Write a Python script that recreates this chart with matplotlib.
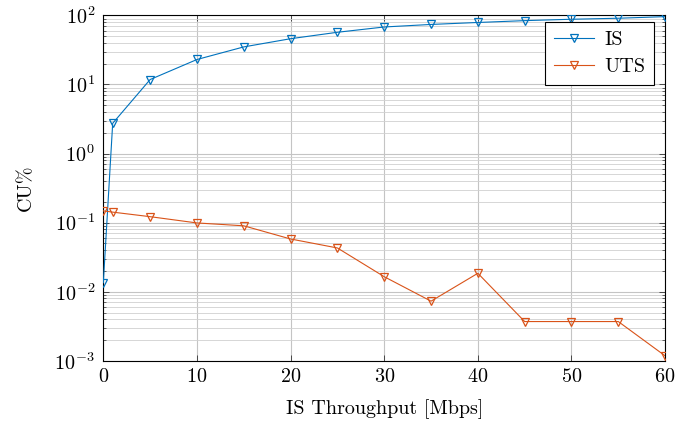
import matplotlib
matplotlib.use("Agg")
import matplotlib.pyplot as plt
from matplotlib.ticker import LogLocator, NullFormatter, MultipleLocator

plt.rcParams['font.family'] = ['cmr10', 'DejaVu Serif']
plt.rcParams['mathtext.fontset'] = 'cm'
plt.rcParams['axes.formatter.use_mathtext'] = True

throughput = [0, 1, 5, 10, 15, 20, 25, 30, 35, 40, 45, 50, 55, 60]
cu_is = [0.0135, 2.74, 11.8, 23.0, 35.0, 46.0, 57.0, 68.0, 74.0, 79.0, 84.0, 88.0, 91.0, 96.0]
cu_uts = [0.148, 0.142, 0.122, 0.099, 0.090, 0.058, 0.043, 0.0165, 0.0073, 0.0185,
          0.0037, 0.0037, 0.0037, 0.00118]

blue = '#0072BD'
orange = '#D95319'

fig = plt.figure(figsize=(6.78, 4.28), dpi=100)
ax = fig.add_axes([0.1524, 0.157, 0.8286, 0.807])

ax.plot(throughput, cu_is, color=blue, lw=0.8, marker='v', ms=6,
        mfc='none', mec=blue, mew=0.9, label='IS', zorder=3)
ax.plot(throughput, cu_uts, color=orange, lw=0.8, marker='v', ms=6,
        mfc='none', mec=orange, mew=0.9, label='UTS', zorder=3)

ax.set_yscale('log')
ax.set_xlim(0, 60)
ax.set_ylim(1e-3, 1e2)
ax.xaxis.set_major_locator(MultipleLocator(10))
ax.yaxis.set_major_locator(LogLocator(base=10, numticks=10))
ax.yaxis.set_minor_locator(LogLocator(base=10, subs=range(2, 10), numticks=20))
ax.yaxis.set_minor_formatter(NullFormatter())

ax.grid(True, which='major', color='#c4c4c4', lw=0.8, zorder=0)
ax.grid(True, which='minor', axis='y', color='#d0d0d0', lw=0.6, zorder=0)
ax.set_axisbelow(True)

ax.tick_params(which='both', direction='in', top=True, right=True, labelsize=14.5,
               colors='#333333', labelcolor='black')
ax.tick_params(which='major', length=4, width=0.6)
ax.tick_params(which='minor', length=2.5, width=0.5)
ax.tick_params(axis='x', pad=5)
ax.tick_params(axis='y', pad=6)
for s in ax.spines.values():
    s.set_linewidth(0.8)
    s.set_color('black')

ax.set_xlabel('IS Throughput [Mbps]', fontsize=14.5, labelpad=10)
ax.set_ylabel('CU%', fontsize=14.5, labelpad=14)

leg = ax.legend(loc='upper right', bbox_to_anchor=(0.981, 0.981), borderaxespad=0,
                fontsize=14.5, frameon=True, fancybox=False, edgecolor='black',
                framealpha=1, handlelength=2.0, borderpad=0.45, labelspacing=0.42,
                handletextpad=0.5)
leg.get_frame().set_linewidth(0.8)

fig.savefig('out.png', dpi=100)
